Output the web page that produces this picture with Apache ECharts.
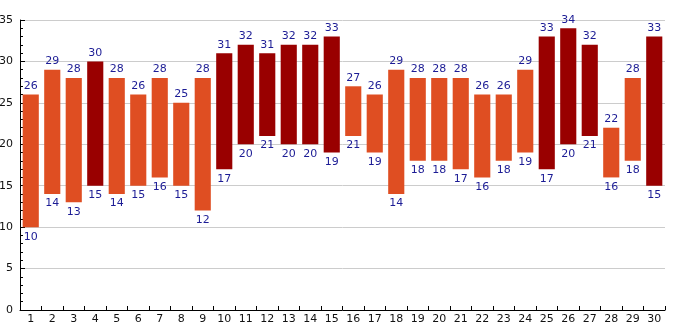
<!DOCTYPE html>
<html><head><meta charset="utf-8">
<script src="https://cdn.jsdelivr.net/npm/echarts@6/dist/echarts.min.js"></script>
<style>html,body{margin:0;padding:0;background:#fff}#c{width:685px;height:330px}</style>
</head><body><div id="c"></div>
<script>
const days = ['1','2','3','4','5','6','7','8','9','10','11','12','13','14','15','16','17','18','19','20','21','22','23','24','25','26','27','28','29','30'];
const lows  = [10,14,13,15,14,15,16,15,12,17,20,21,20,20,19,21,19,14,18,18,17,16,18,19,17,20,21,16,18,15];
const highs = [26,29,28,30,28,26,28,25,28,31,32,31,32,32,33,27,26,29,28,28,28,26,26,29,33,34,32,22,28,33];
const hotThreshold = 30;
const colorWarm = '#DF4E22';
const colorHot = '#990000';
const labelColor = '#1c1c95';
const font = 'DejaVu Sans';

const chart = echarts.init(document.getElementById('c'), null, {renderer:'canvas'});
chart.setOption({
  animation:false,
  grid:{left:20,right:20,top:20,bottom:20,containLabel:false,outerBoundsMode:'none'},
  xAxis:{type:'category',data:days,boundaryGap:true,
    axisLine:{lineStyle:{color:'#000',width:1}},
    axisTick:{show:true,inside:true,length:4,alignWithLabel:false,lineStyle:{color:'#000'}},
    axisLabel:{color:'#111',fontFamily:font,fontSize:11,margin:4,interval:0},
    splitLine:{show:false}},
  yAxis:{type:'value',min:0,max:35,interval:5,
    axisLine:{show:true,lineStyle:{color:'#000',width:1}},
    axisTick:{show:true,inside:true,length:5,lineStyle:{color:'#000'}},
    minorTick:{show:true,splitNumber:5,length:3,lineStyle:{color:'#000'}},
    axisLabel:{color:'#111',fontFamily:font,fontSize:11,margin:7},
    splitLine:{show:true,lineStyle:{color:'#cccccc',width:1}}},
  series:[
    {type:'bar',stack:'t',data:lows,barWidth:'75%',itemStyle:{color:'transparent'},
     label:{show:true,position:'insideTop',distance:4,color:labelColor,fontFamily:font,fontSize:11,
       formatter:p=>p.value},
     silent:true},
    {type:'bar',stack:'t',barWidth:'75%',
     data:highs.map((h,i)=>({value:h-lows[i],itemStyle:{color:h>=hotThreshold?colorHot:colorWarm}})),
     label:{show:true,position:'top',distance:3,color:labelColor,fontFamily:font,fontSize:11,
       formatter:p=>highs[p.dataIndex]}}
  ]
});
</script></body></html>
